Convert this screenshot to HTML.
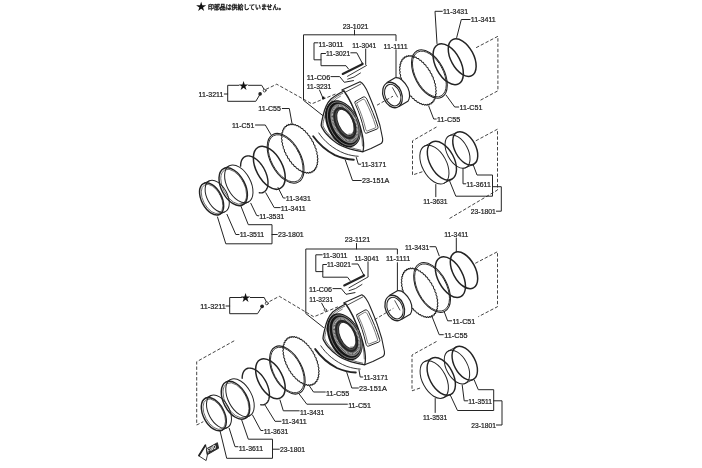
<!DOCTYPE html>
<html lang="ja"><head><meta charset="utf-8"><title>Rotor parts diagram</title>
<style>
html,body{margin:0;padding:0;background:#fff;}
body{width:702px;height:468px;overflow:hidden;}
svg{display:block;filter:blur(0.42px);}
svg text{font-family:"Liberation Sans","Noto Sans CJK JP",sans-serif;fill:#1c1c1c;stroke:#1c1c1c;stroke-width:0.22px;}
svg path,svg ellipse,svg circle{fill:none;stroke:#242424;stroke-linecap:round;stroke-linejoin:round;}
</style></head><body>
<svg width="702" height="468" viewBox="0 0 702 468">
<rect width="702" height="468" fill="#fff" stroke="none"/>
<text x="201.1" y="9.83" font-size="10.35" text-anchor="middle" style="stroke:none;fill:#111">★</text>
<text x="208" y="8.8" font-size="6" textLength="76.3" lengthAdjust="spacingAndGlyphs" style="stroke-width:0.38px;fill:#222;stroke:#222">印部品は供給していません。</text>
<text x="342.7" y="29.2" textLength="25.8" lengthAdjust="spacingAndGlyphs" font-size="7.4" >23-1021</text>
<path d="M354.5 30 L354.5 34.8" stroke-width="1.0" />
<path d="M396 77.3 L396 49.8" stroke-width="1.0" />
<path d="M396 40.7 L396 34.8 L303.5 34.8 L303.5 100.3 L322.7 115.5" stroke-width="1.0" />
<text x="383.5" y="48.8" textLength="24.2" lengthAdjust="spacingAndGlyphs" font-size="7.4" >11-1111</text>
<text x="318.5" y="46.6" textLength="25" lengthAdjust="spacingAndGlyphs" font-size="7.4" >11-3011</text>
<path d="M318 42.8 L314 42.8 L314 59.8 L321 59.8" stroke-width="1.0" />
<text x="352.3" y="48.3" textLength="24" lengthAdjust="spacingAndGlyphs" font-size="7.4" >11-3041</text>
<path d="M365.7 49 L365.7 64.5" stroke-width="1.0" />
<text x="326" y="56.1" textLength="24.2" lengthAdjust="spacingAndGlyphs" font-size="7.4" >11-3021</text>
<path d="M325.5 53.5 L321 53.5 L321 65.7 L346 65.7 L348.5 69" stroke-width="1.0" />
<path d="M350.8 52.8 L356.8 52.8 L362.3 63.2" stroke-width="1.0" />
<circle cx="362.4" cy="63.4" r="0.9" style="fill:#111;stroke:none"/>
<path d="M342.7 74 L362.7 64" stroke-width="2.0" />
<path d="M347.5 76.3 L366.5 65.5" stroke-width="0.9" />
<path d="M347.7 79.2 Q354 78 360.5 73" stroke-width="0.9"/>
<text x="306.8" y="79.9" textLength="23.4" lengthAdjust="spacingAndGlyphs" font-size="7.4" >11-C06</text>
<path d="M331 76.6 L339.7 76.6 L344.3 82.3 L353.5 80.6" stroke-width="1.0" />
<text x="306.8" y="89.4" textLength="24.5" lengthAdjust="spacingAndGlyphs" font-size="7.4" >11-3231</text>
<path d="M319.5 90 L322.5 97" stroke-width="1.0" />
<circle cx="323.3" cy="97.9" r="1.4" style="fill:#111;stroke:none"/>
<g transform="translate(0 0)">
<path d="M344 91 L341.8 90 L360.1 81.7 C364 83.5 366.5 89 368.5 94 C371 100 374 107 376 113 C379 121 381.5 131 382.6 138.5 C382.9 141.5 382.3 143 380.7 143.8 L371 148.5 L363.4 151.6" stroke-width="1.1" style="fill:#fff"/>
<path d="M344.6 92.6 L360.9 84" stroke-width="0.8"/>
<path d="M355.2 101.6 L363.2 97 C365 96.5 366 97.5 367 99.5 C371 108 375 117 377.8 126.3 C378.3 128 378 128.6 377 129 L366.5 133.2 C365.3 133.5 364.6 132.5 364 130 C362 121 359 112 355.5 104.5 C354.8 103 354.6 102 355.2 101.6Z" stroke-width="1"/>
<path d="M357 102.8 L362.8 99.3 C364 99 364.8 99.6 365.6 101.3 C369.5 109 373 117.5 375.6 126 C376 127.3 375.8 127.7 375 128 L367.3 131 C366.5 131.2 366 130.5 365.6 128.8 C363.6 120.5 361 112.5 357.4 105 C356.8 103.8 356.6 103.1 357 102.8Z" stroke-width="0.6"/>
<path d="M344 91 C340 92.5 334 96.7 331 99 C327 103 324.5 109 323 116 C322 120 321.2 123 321.2 125.5 C322 128.5 324 131 326.2 133.8 C329 137 332 140 336.2 142.7 C340 145.3 345 147.3 349.6 148.8 C354 150.2 358 151 362.9 151.8 C364.5 146 363.5 136 358.5 121.3 C355 111 350 99 344 91Z" stroke-width="1.3" style="fill:#fff"/>
<path d="M345.3 93.5 C350.5 101 354.8 111 357.6 120 C360.5 129 362.3 138 362.5 146" stroke-width="0.6"/>
<path d="M342.8 93.2 C339 94.8 335 97.5 332.3 100 C328.5 104 326 110 324.6 116.5 C323.6 120.5 322.9 123 322.9 125.3 C323.6 127.8 325.3 130.2 327.4 132.8 C330 136 333.5 139 337 141.3 C341 143.9 345.5 145.9 350 147.3 C354 148.6 357.5 149.5 361 150.2" stroke-width="0.7"/>
<path d="M340.5 96.2 C337 98 334.5 100 333 101.8 C329.8 105.5 327.5 111 326.2 117" stroke-width="0.6"/>
<ellipse cx="342.9" cy="123.75" rx="15.75" ry="25" transform="rotate(-26 342.9 123.75)" stroke-width="0" style="fill:#161616;stroke:none"/>
<ellipse cx="343.6" cy="123.65" rx="14.04" ry="23.2" transform="rotate(-26 343.6 123.65)" stroke-width="0.55" style="stroke:#b8b8b8"/>
<ellipse cx="344.6" cy="123.5" rx="12.08" ry="21.2" transform="rotate(-26 344.6 123.5)" stroke-width="0" style="fill:#505050;stroke:none"/>
<ellipse cx="344.6" cy="123.5" rx="11.57" ry="20.3" transform="rotate(-26 344.6 123.5)" stroke-width="0.45" style="stroke:#ccc"/>
<ellipse cx="344.7" cy="123.3" rx="10.36" ry="18.5" transform="rotate(-26 344.7 123.3)" stroke-width="1.9" stroke-dasharray="0.5 0.85" style="stroke-linecap:butt;stroke:#eee"/>
<ellipse cx="344.9" cy="123" rx="8.86" ry="16.1" transform="rotate(-26 344.9 123)" stroke-width="1.9" />
<ellipse cx="345.5" cy="122.3" rx="7.37" ry="13.9" transform="rotate(-24 345.5 122.3)" stroke-width="1.0" style="fill:#fff"/>
<path d="M343.18 110.03 L343.51 110.11 L343.83 110.21 L344.17 110.34 L344.5 110.48 L344.84 110.65 L345.18 110.84 L345.52 111.05 L345.87 111.29 L346.21 111.54 L346.56 111.81 L346.9 112.1 L347.24 112.42 L347.58 112.74 L347.92 113.09 L348.25 113.46 L348.58 113.84 L348.9 114.23 L349.22 114.64 L349.54 115.07 L349.84 115.5 L350.14 115.95 L350.43 116.42 L350.72 116.89 L350.99 117.37 L351.26 117.86 L351.51 118.36 L351.76 118.87 L351.99 119.38 L352.22 119.89 L352.43 120.41 L352.63 120.94 L352.81 121.46 L352.99 121.99 L353.15 122.52 L353.3 123.04 L353.43 123.57 L353.55 124.09 L353.66 124.6 L353.75 125.11 L353.83 125.62 L353.89 126.12 L353.94 126.61 L353.97 127.09 L353.99 127.57 L353.99 128.03 L353.98 128.48 L353.95 128.92 L353.91 129.34 L353.85 129.75 L353.78 130.15 L353.69 130.53 L353.59 130.89 L353.47 131.24 L353.35 131.57 L353.2 131.88 L353.05 132.18 L352.88 132.45 L352.69 132.7 L352.5 132.94 L352.29 133.15 L352.07 133.34 L351.84 133.51 L351.6 133.66 L351.35 133.78 L351.08 133.89 L350.81 133.97 L350.53 134.03 L350.24 134.06 L349.95 134.07 L349.64 134.06 L349.33 134.03 L349.02 133.97" stroke-width="0.6" />
</g>
<text x="198.6" y="97.1" textLength="24.8" lengthAdjust="spacingAndGlyphs" font-size="7.4" >11-3211</text>
<path d="M224.3 94 L227.7 94" stroke-width="1.0" />
<path d="M239 85.3 L227.7 85.3 L227.7 101.3 L255.8 101.3 L259.6 95" stroke-width="1.0" />
<path d="M248.5 85.3 L261.7 85.3 L264 89.2" stroke-width="1.0" />
<text x="243.6" y="89.04" font-size="10.12" text-anchor="middle" style="stroke:none;fill:#111">★</text>
<circle cx="260.1" cy="93.9" r="1.8" style="fill:#222;stroke:none"/>
<circle cx="264.6" cy="90.6" r="1.4" stroke-width="0.8"/>
<path d="M266 89.3 L276.7 84.2 L311.8 103.8 L336 93.8" stroke-width="0.85" stroke-dasharray="3.4 1.9" style="stroke-linecap:butt"/>
<path d="M312.73 141.67 L312.96 141.86 L313.17 142.07 L313.34 142.3 L313.45 142.56 L313.51 142.83 L313.54 143.12 L313.55 143.42 L313.56 143.7 L313.61 143.97 L313.71 144.22 L313.86 144.45 L314.06 144.68 L314.28 144.9 L314.51 145.12 L314.71 145.35 L314.86 145.6 L314.95 145.86 L314.99 146.13 L314.99 146.4 L314.96 146.67 L314.95 146.93 L314.97 147.19 L315.04 147.44 L315.17 147.69 L315.35 147.94 L315.56 148.18 L315.78 148.44 L315.97 148.69 L316.1 148.95 L316.18 149.21 L316.19 149.47 L316.15 149.71 L316.1 149.96 L316.05 150.2 L316.04 150.44 L316.08 150.69 L316.19 150.94 L316.36 151.21 L316.55 151.48 L316.75 151.76 L316.92 152.03 L317.04 152.3 L317.09 152.55 L317.08 152.79 L317.02 153.01 L316.93 153.23 L316.85 153.44 L316.81 153.66 L316.83 153.89 L316.91 154.15 L317.05 154.43 L317.23 154.72 L317.41 155.01 L317.56 155.3 L317.66 155.58 L317.69 155.82 L317.65 156.04 L317.56 156.23 L317.44 156.41 L317.33 156.59 L317.26 156.78 L317.25 157 L317.31 157.25 L317.43 157.54 L317.58 157.84 L317.74 158.15 L317.87 158.45 L317.94 158.72 L317.95 158.96 L317.89 159.15 L317.77 159.31 L317.63 159.45 L317.49 159.6 L317.39 159.76 L317.35 159.96 L317.38 160.2 L317.47 160.48 L317.6 160.79 L317.73 161.11 L317.84 161.41 L317.89 161.68 L317.87 161.9 L317.79 162.07 L317.65 162.2 L317.48 162.3 L317.32 162.4 L317.2 162.53 L317.13 162.7 L317.13 162.93 L317.19 163.2 L317.29 163.51 L317.39 163.84 L317.47 164.14 L317.5 164.4 L317.46 164.6 L317.35 164.74 L317.19 164.83 L317.01 164.89 L316.82 164.95 L316.67 165.04 L316.58 165.18 L316.55 165.39 L316.58 165.65 L316.65 165.96 L316.73 166.28 L316.78 166.57 L316.78 166.82 L316.72 167 L316.59 167.11 L316.42 167.16 L316.21 167.18 L316.01 167.2 L315.84 167.25 L315.72 167.36 L315.67 167.54 L315.67 167.79 L315.7 168.08 L315.75 168.39 L315.77 168.68 L315.75 168.91 L315.66 169.07 L315.52 169.14 L315.33 169.16 L315.11 169.13 L314.89 169.1 L314.7 169.11 L314.57 169.19 L314.48 169.34 L314.45 169.56 L314.46 169.84 L314.47 170.14 L314.46 170.41 L314.41 170.62 L314.31 170.75 L314.15 170.8 L313.95 170.77 L313.72 170.7 L313.49 170.63 L313.29 170.6 L313.13 170.64 L313.03 170.75 L312.97 170.95 L312.94 171.21 L312.92 171.48 L312.88 171.73 L312.81 171.92 L312.69 172.03 L312.52 172.04 L312.3 171.97 L312.07 171.87 L311.84 171.75 L311.63 171.68 L311.45 171.68 L311.33 171.76 L311.24 171.93 L311.18 172.15 L311.13 172.4 L311.06 172.63 L310.96 172.79 L310.83 172.87 L310.64 172.85 L310.43 172.75 L310.19 172.6 L309.96 172.45 L309.74 172.33 L309.56 172.29 L309.41 172.34 L309.3 172.47 L309.21 172.67 L309.12 172.88 L309.03 173.08 L308.91 173.21 L308.76 173.26 L308.57 173.21 L308.35 173.07 L308.12 172.89 L307.88 172.7 L307.67 172.55 L307.48 172.47 L307.31 172.48 L307.18 172.57 L307.06 172.73 L306.95 172.91 L306.83 173.08 L306.69 173.18 L306.52 173.19 L306.33 173.11 L306.11 172.94 L305.89 172.73 L305.66 172.51 L305.45 172.32 L305.25 172.2 L305.08 172.17 L304.92 172.23 L304.78 172.35 L304.64 172.5 L304.49 172.62 L304.33 172.69 L304.16 172.67 L303.96 172.56 L303.75 172.37 L303.54 172.12 L303.32 171.87 L303.12 171.65 L302.92 171.5 L302.74 171.43 L302.57 171.45 L302.41 171.53 L302.24 171.63 L302.07 171.72 L301.9 171.76 L301.71 171.71 L301.52 171.57 L301.32 171.35 L301.12 171.08 L300.92 170.8 L300.73 170.56 L300.54 170.37 L300.35 170.27 L300.17 170.25 L299.99 170.29 L299.8 170.35 L299.61 170.4 L299.42 170.39 L299.23 170.31 L299.04 170.15 L298.85 169.91 L298.67 169.62 L298.49 169.32 L298.31 169.05 L298.13 168.84 L297.95 168.71 L297.76 168.65 L297.56 168.64 L297.36 168.66 L297.15 168.67 L296.95 168.63 L296.75 168.52 L296.57 168.33 L296.4 168.07 L296.24 167.77 L296.08 167.46 L295.92 167.17 L295.76 166.94 L295.58 166.77 L295.39 166.68 L295.18 166.63 L294.96 166.6 L294.74 166.57 L294.53 166.49 L294.33 166.35 L294.16 166.14 L294.01 165.88 L293.87 165.57 L293.74 165.25 L293.61 164.95 L293.46 164.7 L293.29 164.5 L293.09 164.37 L292.88 164.28 L292.65 164.21 L292.42 164.14 L292.2 164.03 L292.01 163.86 L291.85 163.63 L291.72 163.36 L291.61 163.04 L291.5 162.72 L291.4 162.42 L291.27 162.16 L291.11 161.94 L290.92 161.78 L290.71 161.65 L290.47 161.54 L290.24 161.42 L290.02 161.28 L289.83 161.09 L289.69 160.85 L289.58 160.56 L289.49 160.25 L289.42 159.94 L289.34 159.63 L289.24 159.36 L289.1 159.13 L288.92 158.94 L288.7 158.77 L288.47 158.62 L288.23 158.47 L288.02 158.29 L287.84 158.08 L287.71 157.83 L287.62 157.55 L287.57 157.25 L287.53 156.94 L287.48 156.64 L287.4 156.37 L287.28 156.13 L287.11 155.91 L286.9 155.71 L286.67 155.53 L286.44 155.34 L286.23 155.13 L286.06 154.9 L285.95 154.64 L285.89 154.37 L285.86 154.08 L285.85 153.78 L285.84 153.5 L285.79 153.23 L285.69 152.98 L285.54 152.75 L285.34 152.52 L285.12 152.3 L284.89 152.08 L284.69 151.85 L284.54 151.6 L284.45 151.34 L284.41 151.07 L284.41 150.8 L284.44 150.53 L284.45 150.27 L284.43 150.01 L284.36 149.76 L284.23 149.51 L284.05 149.26 L283.84 149.02 L283.62 148.76 L283.43 148.51 L283.3 148.25 L283.22 147.99 L283.21 147.73 L283.25 147.49 L283.3 147.24 L283.35 147 L283.36 146.76 L283.32 146.51 L283.21 146.26 L283.04 145.99 L282.85 145.72 L282.65 145.44 L282.48 145.17 L282.36 144.9 L282.31 144.65 L282.32 144.41 L282.38 144.19 L282.47 143.97 L282.55 143.76 L282.59 143.54 L282.57 143.31 L282.49 143.05 L282.35 142.77 L282.17 142.48 L281.99 142.19 L281.84 141.9 L281.74 141.62 L281.71 141.38 L281.75 141.16 L281.84 140.97 L281.96 140.79 L282.07 140.61 L282.14 140.42 L282.15 140.2 L282.09 139.95 L281.97 139.66 L281.82 139.36 L281.66 139.05 L281.53 138.75 L281.46 138.48 L281.45 138.24 L281.51 138.05 L281.63 137.89 L281.77 137.75 L281.91 137.6 L282.01 137.44 L282.05 137.24 L282.02 137 L281.93 136.72 L281.8 136.41 L281.67 136.09 L281.56 135.79 L281.51 135.52 L281.53 135.3 L281.61 135.13 L281.75 135 L281.92 134.9 L282.08 134.8 L282.2 134.67 L282.27 134.5 L282.27 134.27 L282.21 134 L282.11 133.69 L282.01 133.36 L281.93 133.06 L281.9 132.8 L281.94 132.6 L282.05 132.46 L282.21 132.37 L282.39 132.31 L282.58 132.25 L282.73 132.16 L282.82 132.02 L282.85 131.81 L282.82 131.55 L282.75 131.24 L282.67 130.92 L282.62 130.63 L282.62 130.38 L282.68 130.2 L282.81 130.09 L282.98 130.04 L283.19 130.02 L283.39 130 L283.56 129.95 L283.68 129.84 L283.73 129.66 L283.73 129.41 L283.7 129.12 L283.65 128.81 L283.63 128.52 L283.65 128.29 L283.74 128.13 L283.88 128.06 L284.07 128.04 L284.29 128.07 L284.51 128.1 L284.7 128.09 L284.83 128.01 L284.92 127.86 L284.95 127.64 L284.94 127.36 L284.93 127.06 L284.94 126.79 L284.99 126.58 L285.09 126.45 L285.25 126.4 L285.45 126.43 L285.68 126.5 L285.91 126.57 L286.11 126.6 L286.27 126.56 L286.37 126.45 L286.43 126.25 L286.46 125.99 L286.48 125.72 L286.52 125.47 L286.59 125.28 L286.71 125.17 L286.88 125.16 L287.1 125.23 L287.33 125.33 L287.56 125.45 L287.77 125.52 L287.95 125.52 L288.07 125.44 L288.16 125.27 L288.22 125.05 L288.27 124.8 L288.34 124.57 L288.44 124.41 L288.57 124.33 L288.76 124.35 L288.97 124.45 L289.21 124.6 L289.44 124.75 L289.66 124.87 L289.84 124.91 L289.99 124.86 L290.1 124.73 L290.19 124.53 L290.28 124.32 L290.37 124.12 L290.49 123.99 L290.64 123.94 L290.83 123.99 L291.05 124.13 L291.28 124.31 L291.52 124.5 L291.73 124.65 L291.92 124.73 L292.09 124.72 L292.22 124.63 L292.34 124.47 L292.45 124.29 L292.57 124.12 L292.71 124.02 L292.88 124.01 L293.07 124.09 L293.29 124.26 L293.51 124.47 L293.74 124.69 L293.95 124.88 L294.15 125 L294.32 125.03 L294.48 124.97 L294.62 124.85 L294.76 124.7 L294.91 124.58 L295.07 124.51 L295.24 124.53 L295.44 124.64 L295.65 124.83 L295.86 125.08 L296.08 125.33 L296.28 125.55 L296.48 125.7 L296.66 125.77 L296.83 125.75 L296.99 125.67 L297.16 125.57 L297.33 125.48 L297.5 125.44 L297.69 125.49 L297.88 125.63 L298.08 125.85 L298.28 126.12 L298.48 126.4 L298.67 126.64 L298.86 126.83 L299.05 126.93 L299.23 126.95 L299.41 126.91 L299.6 126.85 L299.79 126.8 L299.98 126.81 L300.17 126.89 L300.36 127.05 L300.55 127.29 L300.73 127.58 L300.91 127.88 L301.09 128.15 L301.27 128.36 L301.45 128.49 L301.64 128.55 L301.84 128.56 L302.04 128.54 L302.25 128.53 L302.45 128.57 L302.65 128.68 L302.83 128.87 L303 129.13 L303.16 129.43 L303.32 129.74 L303.48 130.03 L303.64 130.26 L303.82 130.43 L304.01 130.52 L304.22 130.57 L304.44 130.6 L304.66 130.63 L304.87 130.71 L305.07 130.85 L305.24 131.06 L305.39 131.32 L305.53 131.63 L305.66 131.95 L305.79 132.25 L305.94 132.5 L306.11 132.7 L306.31 132.83 L306.52 132.92 L306.75 132.99 L306.98 133.06 L307.2 133.17 L307.39 133.34 L307.55 133.57 L307.68 133.84 L307.79 134.16 L307.9 134.48 L308 134.78 L308.13 135.04 L308.29 135.26 L308.48 135.42 L308.69 135.55 L308.93 135.66 L309.16 135.78 L309.38 135.92 L309.57 136.11 L309.71 136.35 L309.82 136.64 L309.91 136.95 L309.98 137.26 L310.06 137.57 L310.16 137.84 L310.3 138.07 L310.48 138.26 L310.7 138.43 L310.93 138.58 L311.17 138.73 L311.38 138.91 L311.56 139.12 L311.69 139.37 L311.78 139.65 L311.83 139.95 L311.87 140.26 L311.92 140.56 L312 140.83 L312.12 141.07 L312.29 141.29 L312.5 141.49 L312.73 141.67" stroke-width="1.05" />
<ellipse cx="285.6" cy="158.3" rx="15.12" ry="27" transform="rotate(-28 285.6 158.3)" stroke-width="1.05" />
<ellipse cx="285.6" cy="158.3" rx="14.33" ry="25.6" transform="rotate(-28 285.6 158.3)" stroke-width="0.8400000000000001" />
<ellipse cx="269.3" cy="167.8" rx="13.08" ry="23.36" transform="rotate(-28 269.3 167.8)" stroke-width="1.5" />
<path d="M240.61 166.17 L240.62 165.18 L240.69 164.23 L240.81 163.32 L240.97 162.44 L241.19 161.61 L241.45 160.83 L241.76 160.1 L242.11 159.41 L242.51 158.79 L242.96 158.22 L243.44 157.7 L243.96 157.25 L244.52 156.86 L245.12 156.54 L245.75 156.28 L246.41 156.09 L247.1 155.96 L247.81 155.9 L248.55 155.91 L249.31 155.98 L250.09 156.13 L250.89 156.33 L251.69 156.61 L252.51 156.95 L253.33 157.35 L254.16 157.82 L254.98 158.34 L255.81 158.93 L256.63 159.57 L257.44 160.26 L258.23 161.01 L259.02 161.8 L259.79 162.64 L260.53 163.52 L261.26 164.45 L261.96 165.41 L262.63 166.4 L263.27 167.42 L263.88 168.47 L264.45 169.53 L264.98 170.62 L265.48 171.72 L265.94 172.83 L266.35 173.94 L266.72 175.06 L267.05 176.17 L267.33 177.28 L267.56 178.38 L267.74 179.46 L267.88 180.53 L267.96 181.57 L267.99 182.59 L267.98 183.57 L267.91 184.52 L267.8 185.44 L267.64 186.32 L267.42 187.15 L267.16 187.93 L266.86 188.67 L266.5 189.36 L266.11 189.99 L265.67 190.56 L265.19 191.07 L264.66 191.53 L264.11 191.92 L263.51 192.25 L262.88 192.51 L262.22 192.71 L261.54 192.84 L260.82 192.9 L260.08 192.89 L259.32 192.82" stroke-width="1.4" />
<ellipse cx="238.8" cy="183.9" rx="11.86" ry="20.45" transform="rotate(-28 238.8 183.9)" stroke-width="1.0" />
<ellipse cx="233.2" cy="186.7" rx="11.86" ry="20.45" transform="rotate(-28 233.2 186.7)" stroke-width="1.45" />
<path d="M223.75 168.56 L229.35 165.76" stroke-width="0.9" />
<path d="M242.65 204.84 L248.25 202.04" stroke-width="0.9" />
<ellipse cx="233.7" cy="186.7" rx="10.66" ry="18.95" transform="rotate(-28 233.7 186.7)" stroke-width="0.6" />
<ellipse cx="217.2" cy="196.3" rx="10.09" ry="17.4" transform="rotate(-28 217.2 196.3)" stroke-width="1.0" />
<ellipse cx="211.6" cy="198.9" rx="10.09" ry="17.4" transform="rotate(-28 211.6 198.9)" stroke-width="1.45" />
<path d="M203.71 183.4 L209.31 180.8" stroke-width="0.9" />
<path d="M219.49 214.4 L225.09 211.8" stroke-width="0.9" />
<ellipse cx="212.1" cy="198.9" rx="8.95" ry="15.9" transform="rotate(-28 212.1 198.9)" stroke-width="0.6" />
<text x="258.3" y="111.4" textLength="22.7" lengthAdjust="spacingAndGlyphs" font-size="7.4" >11-C55</text>
<path d="M282.3 108.5 L289.3 108.5 L292 123.5" stroke-width="1.0" />
<text x="232" y="128.2" textLength="22.3" lengthAdjust="spacingAndGlyphs" font-size="7.4" >11-C51</text>
<path d="M255.5 125 L265.3 125 L271 134.7" stroke-width="1.0" />
<text x="285.8" y="201" textLength="25" lengthAdjust="spacingAndGlyphs" font-size="7.4" >11-3431</text>
<path d="M285.2 198 L283.3 198 L278 187.5" stroke-width="1.0" />
<text x="280.8" y="211" textLength="25" lengthAdjust="spacingAndGlyphs" font-size="7.4" >11-3411</text>
<path d="M280.2 207.6 L274.2 207.6 L265.8 192.8" stroke-width="1.0" />
<text x="259.2" y="219.4" textLength="25" lengthAdjust="spacingAndGlyphs" font-size="7.4" >11-3531</text>
<path d="M258.6 215.8 L256.7 215.5 L250.8 203.3" stroke-width="1.0" />
<text x="239.7" y="237.4" textLength="24.5" lengthAdjust="spacingAndGlyphs" font-size="7.4" >11-3511</text>
<path d="M239 234.5 L235.8 234.5 L227 214.4" stroke-width="1.0" />
<text x="278" y="237.4" textLength="25.7" lengthAdjust="spacingAndGlyphs" font-size="7.4" >23-1801</text>
<path d="M277.3 234.5 L272 234.5" stroke-width="1.0" />
<path d="M240.8 205.8 L248.3 224.7 L272 224.7 L272 243.8 L225.8 243.8 L217.5 217" stroke-width="1.0" />
<g transform="translate(0 0)">
<path d="M318.8 133 C324 141 333 149 344.9 153.6 C350 155.3 354 156 358.2 156.3" stroke-width="0.9"/>
<path d="M313.2 136.3 C318 143 327 151 334.9 155.2 C341 158 347 159.4 353.8 159.7" stroke-width="1.9"/>
</g>
<text x="361.3" y="167.2" textLength="25" lengthAdjust="spacingAndGlyphs" font-size="7.4" >11-3171</text>
<path d="M360.6 164.2 L358.3 164.2 L356.3 157.5" stroke-width="1.0" />
<text x="362" y="183.2" textLength="27.2" lengthAdjust="spacingAndGlyphs" font-size="7.4" >23-151A</text>
<path d="M361.3 180.5 L352.5 180.5 L345.3 160" stroke-width="1.0" />
<path d="M431.04 73.42 L431.27 73.61 L431.48 73.82 L431.65 74.05 L431.76 74.31 L431.83 74.59 L431.85 74.88 L431.86 75.17 L431.88 75.46 L431.93 75.73 L432.02 75.98 L432.18 76.22 L432.38 76.44 L432.6 76.67 L432.83 76.89 L433.03 77.13 L433.18 77.38 L433.28 77.64 L433.32 77.91 L433.31 78.18 L433.29 78.45 L433.27 78.72 L433.29 78.98 L433.36 79.23 L433.5 79.48 L433.68 79.73 L433.89 79.98 L434.11 80.24 L434.3 80.49 L434.44 80.76 L434.51 81.02 L434.52 81.27 L434.49 81.52 L434.43 81.77 L434.38 82.01 L434.37 82.26 L434.42 82.5 L434.53 82.76 L434.69 83.03 L434.89 83.3 L435.09 83.58 L435.26 83.86 L435.38 84.13 L435.44 84.38 L435.42 84.62 L435.36 84.85 L435.27 85.06 L435.19 85.28 L435.15 85.5 L435.17 85.74 L435.25 86 L435.39 86.27 L435.57 86.57 L435.75 86.87 L435.91 87.16 L436.01 87.43 L436.03 87.68 L436 87.9 L435.9 88.09 L435.79 88.28 L435.68 88.46 L435.61 88.65 L435.6 88.87 L435.65 89.13 L435.77 89.41 L435.92 89.72 L436.08 90.03 L436.22 90.33 L436.29 90.61 L436.3 90.84 L436.24 91.04 L436.12 91.2 L435.97 91.34 L435.84 91.49 L435.74 91.65 L435.7 91.85 L435.73 92.09 L435.82 92.38 L435.94 92.69 L436.08 93.01 L436.19 93.32 L436.24 93.59 L436.22 93.81 L436.14 93.98 L436 94.11 L435.83 94.21 L435.66 94.31 L435.54 94.44 L435.47 94.62 L435.47 94.84 L435.53 95.12 L435.63 95.44 L435.74 95.76 L435.82 96.07 L435.85 96.33 L435.81 96.53 L435.7 96.67 L435.54 96.76 L435.35 96.82 L435.16 96.88 L435.01 96.97 L434.92 97.12 L434.89 97.33 L434.92 97.59 L434.99 97.9 L435.07 98.22 L435.12 98.52 L435.12 98.77 L435.06 98.95 L434.93 99.07 L434.75 99.12 L434.55 99.13 L434.34 99.15 L434.17 99.2 L434.05 99.31 L434 99.49 L434 99.74 L434.03 100.04 L434.08 100.35 L434.1 100.64 L434.08 100.88 L433.99 101.03 L433.85 101.11 L433.65 101.13 L433.43 101.1 L433.22 101.07 L433.03 101.08 L432.89 101.16 L432.8 101.31 L432.77 101.54 L432.78 101.82 L432.79 102.11 L432.78 102.38 L432.74 102.6 L432.63 102.73 L432.47 102.78 L432.26 102.75 L432.03 102.68 L431.81 102.61 L431.6 102.58 L431.44 102.62 L431.34 102.74 L431.28 102.94 L431.25 103.19 L431.23 103.47 L431.19 103.72 L431.12 103.91 L431 104.02 L430.82 104.03 L430.61 103.97 L430.37 103.86 L430.14 103.74 L429.92 103.67 L429.75 103.66 L429.62 103.75 L429.53 103.92 L429.47 104.15 L429.42 104.4 L429.35 104.62 L429.26 104.79 L429.12 104.86 L428.93 104.84 L428.72 104.74 L428.48 104.6 L428.24 104.44 L428.02 104.33 L427.84 104.28 L427.69 104.33 L427.58 104.47 L427.49 104.66 L427.4 104.88 L427.31 105.08 L427.19 105.21 L427.03 105.26 L426.84 105.21 L426.62 105.07 L426.39 104.89 L426.15 104.7 L425.93 104.54 L425.74 104.46 L425.58 104.47 L425.44 104.57 L425.32 104.73 L425.21 104.91 L425.09 105.08 L424.94 105.18 L424.78 105.19 L424.58 105.11 L424.36 104.94 L424.14 104.73 L423.91 104.5 L423.69 104.31 L423.5 104.19 L423.32 104.16 L423.17 104.22 L423.02 104.34 L422.88 104.49 L422.73 104.62 L422.57 104.69 L422.39 104.67 L422.2 104.56 L421.99 104.36 L421.77 104.12 L421.55 103.86 L421.35 103.64 L421.15 103.49 L420.97 103.42 L420.8 103.44 L420.63 103.52 L420.46 103.62 L420.29 103.71 L420.11 103.75 L419.93 103.7 L419.73 103.55 L419.53 103.33 L419.33 103.06 L419.13 102.78 L418.93 102.54 L418.74 102.35 L418.56 102.25 L418.37 102.23 L418.19 102.26 L418 102.33 L417.81 102.38 L417.62 102.37 L417.42 102.29 L417.23 102.12 L417.04 101.88 L416.86 101.59 L416.68 101.29 L416.5 101.02 L416.32 100.81 L416.14 100.67 L415.94 100.61 L415.74 100.61 L415.54 100.63 L415.33 100.63 L415.12 100.59 L414.93 100.48 L414.74 100.29 L414.57 100.03 L414.41 99.73 L414.25 99.42 L414.09 99.13 L413.93 98.89 L413.75 98.72 L413.55 98.62 L413.34 98.58 L413.12 98.55 L412.9 98.52 L412.68 98.44 L412.49 98.3 L412.31 98.09 L412.16 97.82 L412.02 97.51 L411.89 97.18 L411.76 96.88 L411.61 96.63 L411.43 96.43 L411.24 96.3 L411.02 96.21 L410.79 96.14 L410.56 96.06 L410.34 95.95 L410.15 95.79 L409.99 95.56 L409.85 95.28 L409.74 94.96 L409.64 94.64 L409.53 94.33 L409.4 94.07 L409.24 93.85 L409.05 93.68 L408.83 93.56 L408.6 93.44 L408.36 93.33 L408.14 93.18 L407.95 92.99 L407.8 92.75 L407.69 92.46 L407.61 92.15 L407.54 91.83 L407.46 91.52 L407.35 91.25 L407.21 91.02 L407.03 90.82 L406.81 90.66 L406.57 90.51 L406.34 90.35 L406.12 90.17 L405.94 89.96 L405.81 89.71 L405.72 89.42 L405.67 89.12 L405.63 88.81 L405.58 88.51 L405.5 88.23 L405.38 87.99 L405.21 87.77 L405 87.57 L404.76 87.38 L404.53 87.19 L404.32 86.98 L404.15 86.75 L404.04 86.49 L403.97 86.21 L403.95 85.92 L403.94 85.63 L403.92 85.34 L403.87 85.07 L403.78 84.82 L403.62 84.58 L403.42 84.36 L403.2 84.13 L402.97 83.91 L402.77 83.67 L402.62 83.42 L402.52 83.16 L402.48 82.89 L402.49 82.62 L402.51 82.35 L402.53 82.08 L402.51 81.82 L402.44 81.57 L402.3 81.32 L402.12 81.07 L401.91 80.82 L401.69 80.56 L401.5 80.31 L401.36 80.04 L401.29 79.78 L401.28 79.53 L401.31 79.28 L401.37 79.03 L401.42 78.79 L401.43 78.54 L401.38 78.3 L401.27 78.04 L401.11 77.77 L400.91 77.5 L400.71 77.22 L400.54 76.94 L400.42 76.67 L400.36 76.42 L400.38 76.18 L400.44 75.95 L400.53 75.74 L400.61 75.52 L400.65 75.3 L400.63 75.06 L400.55 74.8 L400.41 74.53 L400.23 74.23 L400.05 73.93 L399.89 73.64 L399.79 73.37 L399.77 73.12 L399.8 72.9 L399.9 72.71 L400.01 72.52 L400.12 72.34 L400.19 72.15 L400.2 71.93 L400.15 71.67 L400.03 71.39 L399.88 71.08 L399.72 70.77 L399.58 70.47 L399.51 70.19 L399.5 69.96 L399.56 69.76 L399.68 69.6 L399.83 69.46 L399.96 69.31 L400.06 69.15 L400.1 68.95 L400.07 68.71 L399.98 68.42 L399.86 68.11 L399.72 67.79 L399.61 67.48 L399.56 67.21 L399.58 66.99 L399.66 66.82 L399.8 66.69 L399.97 66.59 L400.14 66.49 L400.26 66.36 L400.33 66.18 L400.33 65.96 L400.27 65.68 L400.17 65.36 L400.06 65.04 L399.98 64.73 L399.95 64.47 L399.99 64.27 L400.1 64.13 L400.26 64.04 L400.45 63.98 L400.64 63.92 L400.79 63.83 L400.88 63.68 L400.91 63.47 L400.88 63.21 L400.81 62.9 L400.73 62.58 L400.68 62.28 L400.68 62.03 L400.74 61.85 L400.87 61.73 L401.05 61.68 L401.25 61.67 L401.46 61.65 L401.63 61.6 L401.75 61.49 L401.8 61.31 L401.8 61.06 L401.77 60.76 L401.72 60.45 L401.7 60.16 L401.72 59.92 L401.81 59.77 L401.95 59.69 L402.15 59.67 L402.37 59.7 L402.58 59.73 L402.77 59.72 L402.91 59.64 L403 59.49 L403.03 59.26 L403.02 58.98 L403.01 58.69 L403.02 58.42 L403.06 58.2 L403.17 58.07 L403.33 58.02 L403.54 58.05 L403.77 58.12 L403.99 58.19 L404.2 58.22 L404.36 58.18 L404.46 58.06 L404.52 57.86 L404.55 57.61 L404.57 57.33 L404.61 57.08 L404.68 56.89 L404.8 56.78 L404.98 56.77 L405.19 56.83 L405.43 56.94 L405.66 57.06 L405.88 57.13 L406.05 57.14 L406.18 57.05 L406.27 56.88 L406.33 56.65 L406.38 56.4 L406.45 56.18 L406.54 56.01 L406.68 55.94 L406.87 55.96 L407.08 56.06 L407.32 56.2 L407.56 56.36 L407.78 56.47 L407.96 56.52 L408.11 56.47 L408.22 56.33 L408.31 56.14 L408.4 55.92 L408.49 55.72 L408.61 55.59 L408.77 55.54 L408.96 55.59 L409.18 55.73 L409.41 55.91 L409.65 56.1 L409.87 56.26 L410.06 56.34 L410.22 56.33 L410.36 56.23 L410.48 56.07 L410.59 55.89 L410.71 55.72 L410.86 55.62 L411.02 55.61 L411.22 55.69 L411.44 55.86 L411.66 56.07 L411.89 56.3 L412.11 56.49 L412.3 56.61 L412.48 56.64 L412.63 56.58 L412.78 56.46 L412.92 56.31 L413.07 56.18 L413.23 56.11 L413.41 56.13 L413.6 56.24 L413.81 56.44 L414.03 56.68 L414.25 56.94 L414.45 57.16 L414.65 57.31 L414.83 57.38 L415 57.36 L415.17 57.28 L415.34 57.18 L415.51 57.09 L415.69 57.05 L415.87 57.1 L416.07 57.25 L416.27 57.47 L416.47 57.74 L416.67 58.02 L416.87 58.26 L417.06 58.45 L417.24 58.55 L417.43 58.57 L417.61 58.54 L417.8 58.47 L417.99 58.42 L418.18 58.43 L418.38 58.51 L418.57 58.68 L418.76 58.92 L418.94 59.21 L419.12 59.51 L419.3 59.78 L419.48 59.99 L419.66 60.13 L419.86 60.19 L420.06 60.19 L420.26 60.17 L420.47 60.17 L420.68 60.21 L420.87 60.32 L421.06 60.51 L421.23 60.77 L421.39 61.07 L421.55 61.38 L421.71 61.67 L421.87 61.91 L422.05 62.08 L422.25 62.18 L422.46 62.22 L422.68 62.25 L422.9 62.28 L423.12 62.36 L423.31 62.5 L423.49 62.71 L423.64 62.98 L423.78 63.29 L423.91 63.62 L424.04 63.92 L424.19 64.17 L424.37 64.37 L424.56 64.5 L424.78 64.59 L425.01 64.66 L425.24 64.74 L425.46 64.85 L425.65 65.01 L425.81 65.24 L425.95 65.52 L426.06 65.84 L426.16 66.16 L426.27 66.47 L426.4 66.73 L426.56 66.95 L426.75 67.12 L426.97 67.24 L427.2 67.36 L427.44 67.47 L427.66 67.62 L427.85 67.81 L428 68.05 L428.11 68.34 L428.19 68.65 L428.26 68.97 L428.34 69.28 L428.45 69.55 L428.59 69.78 L428.77 69.98 L428.99 70.14 L429.23 70.29 L429.46 70.45 L429.68 70.63 L429.86 70.84 L429.99 71.09 L430.08 71.38 L430.13 71.68 L430.17 71.99 L430.22 72.29 L430.3 72.57 L430.42 72.81 L430.59 73.03 L430.8 73.23 L431.04 73.42" stroke-width="1.05" />
<ellipse cx="429.4" cy="74" rx="14.7" ry="26.24" transform="rotate(-28 429.4 74)" stroke-width="1.05" />
<ellipse cx="429.4" cy="74" rx="13.91" ry="24.84" transform="rotate(-28 429.4 74)" stroke-width="0.8400000000000001" />
<ellipse cx="448.2" cy="64.2" rx="12.45" ry="22.23" transform="rotate(-28 448.2 64.2)" stroke-width="1.5" />
<ellipse cx="462.2" cy="57.6" rx="11.45" ry="20.45" transform="rotate(-28 462.2 57.6)" stroke-width="1.5" />
<text x="443" y="14.3" textLength="25" lengthAdjust="spacingAndGlyphs" font-size="7.4" >11-3431</text>
<path d="M442.3 11.3 L435 11.3 L437 43.5" stroke-width="1.0" />
<text x="470.8" y="22.3" textLength="25" lengthAdjust="spacingAndGlyphs" font-size="7.4" >11-3411</text>
<path d="M470 19.5 L461.3 19.5 L456.7 37.5" stroke-width="1.0" />
<text x="459.5" y="110.1" textLength="23" lengthAdjust="spacingAndGlyphs" font-size="7.4" >11-C51</text>
<path d="M458.7 107 L454.7 107 L446 95" stroke-width="1.0" />
<text x="437" y="122" textLength="23.2" lengthAdjust="spacingAndGlyphs" font-size="7.4" >11-C55</text>
<path d="M436.2 119 L433.7 119 L428.7 106" stroke-width="1.0" />
<path d="M476.1 47.7 L497.9 36.3 L497.9 90.8 L479 101" stroke-width="0.85" stroke-dasharray="3.4 1.9" style="stroke-linecap:butt"/>
<g transform="translate(0 0)">
<path d="M387 82.6 L395.1 77.8 C398 77.3 400 78.3 401.9 80 C404.5 82.3 406.5 85 407.9 87.7 C409.2 90.5 409.8 93.5 409.6 96.2 C409.4 98.5 408.8 100.2 407.9 101.3 L399.4 106.2" stroke-width="1.15" style="fill:#fff"/>
<ellipse cx="392.5" cy="95" rx="9.24" ry="13.2" transform="rotate(-22 392.5 95)" stroke-width="1.3" style="fill:#fff"/>
<ellipse cx="392.7" cy="95.1" rx="7.62" ry="11.2" transform="rotate(-22 392.7 95.1)" stroke-width="1.0" />
<path d="M392.5 87.7 L397.6 97" stroke-width="0.8"/>
</g>
<path d="M377 105.2 L393 96.2" stroke-width="0.85" stroke-dasharray="3.4 1.9" style="stroke-linecap:butt"/>
<ellipse cx="434.4" cy="164.6" rx="12.18" ry="21" transform="rotate(-28 434.4 164.6)" stroke-width="1.0" />
<ellipse cx="441.9" cy="160.7" rx="12.18" ry="21" transform="rotate(-28 441.9 160.7)" stroke-width="1.45" />
<path d="M451.7 179.27 L444.2 183.17" stroke-width="0.9" />
<path d="M432.1 142.13 L424.6 146.03" stroke-width="0.9" />
<ellipse cx="457.55" cy="151.65" rx="10.44" ry="18" transform="rotate(-28 457.55 151.65)" stroke-width="1.0" />
<ellipse cx="465.25" cy="148.35" rx="10.44" ry="18" transform="rotate(-28 465.25 148.35)" stroke-width="1.45" />
<path d="M473.24 164.46 L465.54 167.76" stroke-width="0.9" />
<path d="M457.26 132.24 L449.56 135.54" stroke-width="0.9" />
<text x="466.3" y="186.9" textLength="24.5" lengthAdjust="spacingAndGlyphs" font-size="7.4" >11-3611</text>
<path d="M465.6 183.8 L463 183.8 L463 168.3" stroke-width="1.0" />
<text x="423.3" y="204" textLength="24.3" lengthAdjust="spacingAndGlyphs" font-size="7.4" >11-3631</text>
<path d="M435.8 184.5 L435.8 196.7" stroke-width="1.0" />
<text x="470.8" y="214" textLength="25" lengthAdjust="spacingAndGlyphs" font-size="7.4" >23-1801</text>
<path d="M496.4 211.2 L501.3 211.2 L501.3 186.7 L492.5 186.7" stroke-width="1.0" />
<path d="M473.3 165 L477 175 L492.5 175 L492.5 196.2 L455.8 196.2 L449.2 180" stroke-width="1.0" />
<path d="M436.5 127 L412.5 140.8 L412.5 175 L422.5 171.7" stroke-width="0.85" stroke-dasharray="3.4 1.9" style="stroke-linecap:butt"/>
<path d="M475.8 140.8 L497.5 129.2 L497.5 190 L448.3 219.2" stroke-width="0.85" stroke-dasharray="3.4 1.9" style="stroke-linecap:butt"/>
<text x="344.8" y="242.2" textLength="25.4" lengthAdjust="spacingAndGlyphs" font-size="7.4" >23-1121</text>
<path d="M356.5 243.5 L356.5 249" stroke-width="1.0" />
<path d="M397.4 291 L397.4 262.7" stroke-width="1.0" />
<path d="M397.4 254 L397.4 249 L305.8 249 L305.8 313.5 L323.5 327.5" stroke-width="1.0" />
<text x="386" y="261.2" textLength="24.2" lengthAdjust="spacingAndGlyphs" font-size="7.4" >11-1111</text>
<text x="322.7" y="257.7" textLength="24.8" lengthAdjust="spacingAndGlyphs" font-size="7.4" >11-3011</text>
<path d="M322.2 254.8 L315.8 254.8 L315.8 271.6 L322.8 271.6" stroke-width="1.0" />
<text x="354.4" y="260.5" textLength="24.6" lengthAdjust="spacingAndGlyphs" font-size="7.4" >11-3041</text>
<path d="M368 261.8 L368 276.5" stroke-width="1.0" />
<text x="326.9" y="266.6" textLength="24.2" lengthAdjust="spacingAndGlyphs" font-size="7.4" >11-3021</text>
<path d="M326.5 264.5 L322.8 264.5 L322.8 277.2 L347.5 277.2 L350 280.5" stroke-width="1.0" />
<path d="M352 264 L358 264 L363.5 274.5" stroke-width="1.0" />
<circle cx="363.6" cy="274.8" r="0.9" style="fill:#111;stroke:none"/>
<path d="M344.2 285.5 L364.2 275.5" stroke-width="2.0" />
<path d="M349 287.8 L368 277" stroke-width="0.9" />
<path d="M349.2 290.7 Q355.5 289.5 362 284.5" stroke-width="0.9"/>
<text x="309" y="292" textLength="23" lengthAdjust="spacingAndGlyphs" font-size="7.4" >11-C06</text>
<path d="M333 288.6 L341.3 288.6 L346 294.3 L355 292.6" stroke-width="1.0" />
<text x="309.3" y="302.1" textLength="23.8" lengthAdjust="spacingAndGlyphs" font-size="7.4" >11-3231</text>
<path d="M321.7 303.2 L324.5 308.5" stroke-width="1.0" />
<circle cx="325.3" cy="310" r="1.2" stroke-width="0.7"/>
<g transform="translate(1.8 213)">
<path d="M344 91 L341.8 90 L360.1 81.7 C364 83.5 366.5 89 368.5 94 C371 100 374 107 376 113 C379 121 381.5 131 382.6 138.5 C382.9 141.5 382.3 143 380.7 143.8 L371 148.5 L363.4 151.6" stroke-width="1.1" style="fill:#fff"/>
<path d="M344.6 92.6 L360.9 84" stroke-width="0.8"/>
<path d="M355.2 101.6 L363.2 97 C365 96.5 366 97.5 367 99.5 C371 108 375 117 377.8 126.3 C378.3 128 378 128.6 377 129 L366.5 133.2 C365.3 133.5 364.6 132.5 364 130 C362 121 359 112 355.5 104.5 C354.8 103 354.6 102 355.2 101.6Z" stroke-width="1"/>
<path d="M357 102.8 L362.8 99.3 C364 99 364.8 99.6 365.6 101.3 C369.5 109 373 117.5 375.6 126 C376 127.3 375.8 127.7 375 128 L367.3 131 C366.5 131.2 366 130.5 365.6 128.8 C363.6 120.5 361 112.5 357.4 105 C356.8 103.8 356.6 103.1 357 102.8Z" stroke-width="0.6"/>
<path d="M344 91 C340 92.5 334 96.7 331 99 C327 103 324.5 109 323 116 C322 120 321.2 123 321.2 125.5 C322 128.5 324 131 326.2 133.8 C329 137 332 140 336.2 142.7 C340 145.3 345 147.3 349.6 148.8 C354 150.2 358 151 362.9 151.8 C364.5 146 363.5 136 358.5 121.3 C355 111 350 99 344 91Z" stroke-width="1.3" style="fill:#fff"/>
<path d="M345.3 93.5 C350.5 101 354.8 111 357.6 120 C360.5 129 362.3 138 362.5 146" stroke-width="0.6"/>
<path d="M342.8 93.2 C339 94.8 335 97.5 332.3 100 C328.5 104 326 110 324.6 116.5 C323.6 120.5 322.9 123 322.9 125.3 C323.6 127.8 325.3 130.2 327.4 132.8 C330 136 333.5 139 337 141.3 C341 143.9 345.5 145.9 350 147.3 C354 148.6 357.5 149.5 361 150.2" stroke-width="0.7"/>
<path d="M340.5 96.2 C337 98 334.5 100 333 101.8 C329.8 105.5 327.5 111 326.2 117" stroke-width="0.6"/>
<ellipse cx="342.9" cy="123.75" rx="15.75" ry="25" transform="rotate(-26 342.9 123.75)" stroke-width="0" style="fill:#161616;stroke:none"/>
<ellipse cx="343.6" cy="123.65" rx="14.04" ry="23.2" transform="rotate(-26 343.6 123.65)" stroke-width="0.55" style="stroke:#b8b8b8"/>
<ellipse cx="344.6" cy="123.5" rx="12.08" ry="21.2" transform="rotate(-26 344.6 123.5)" stroke-width="0" style="fill:#505050;stroke:none"/>
<ellipse cx="344.6" cy="123.5" rx="11.57" ry="20.3" transform="rotate(-26 344.6 123.5)" stroke-width="0.45" style="stroke:#ccc"/>
<ellipse cx="344.7" cy="123.3" rx="10.36" ry="18.5" transform="rotate(-26 344.7 123.3)" stroke-width="1.9" stroke-dasharray="0.5 0.85" style="stroke-linecap:butt;stroke:#eee"/>
<ellipse cx="344.9" cy="123" rx="8.86" ry="16.1" transform="rotate(-26 344.9 123)" stroke-width="1.9" />
<ellipse cx="345.5" cy="122.3" rx="7.37" ry="13.9" transform="rotate(-24 345.5 122.3)" stroke-width="1.0" style="fill:#fff"/>
<path d="M343.18 110.03 L343.51 110.11 L343.83 110.21 L344.17 110.34 L344.5 110.48 L344.84 110.65 L345.18 110.84 L345.52 111.05 L345.87 111.29 L346.21 111.54 L346.56 111.81 L346.9 112.1 L347.24 112.42 L347.58 112.74 L347.92 113.09 L348.25 113.46 L348.58 113.84 L348.9 114.23 L349.22 114.64 L349.54 115.07 L349.84 115.5 L350.14 115.95 L350.43 116.42 L350.72 116.89 L350.99 117.37 L351.26 117.86 L351.51 118.36 L351.76 118.87 L351.99 119.38 L352.22 119.89 L352.43 120.41 L352.63 120.94 L352.81 121.46 L352.99 121.99 L353.15 122.52 L353.3 123.04 L353.43 123.57 L353.55 124.09 L353.66 124.6 L353.75 125.11 L353.83 125.62 L353.89 126.12 L353.94 126.61 L353.97 127.09 L353.99 127.57 L353.99 128.03 L353.98 128.48 L353.95 128.92 L353.91 129.34 L353.85 129.75 L353.78 130.15 L353.69 130.53 L353.59 130.89 L353.47 131.24 L353.35 131.57 L353.2 131.88 L353.05 132.18 L352.88 132.45 L352.69 132.7 L352.5 132.94 L352.29 133.15 L352.07 133.34 L351.84 133.51 L351.6 133.66 L351.35 133.78 L351.08 133.89 L350.81 133.97 L350.53 134.03 L350.24 134.06 L349.95 134.07 L349.64 134.06 L349.33 134.03 L349.02 133.97" stroke-width="0.6" />
</g>
<text x="200.3" y="309.2" textLength="25.4" lengthAdjust="spacingAndGlyphs" font-size="7.4" >11-3211</text>
<path d="M226 306 L229.7 306" stroke-width="1.0" />
<path d="M241.5 297.5 L229.7 297.5 L229.7 313.7 L257.5 313.7 L261.5 307.5" stroke-width="1.0" />
<path d="M250.3 297.5 L264.2 297.5 L266.3 301.8" stroke-width="1.0" />
<text x="245.6" y="300.94" font-size="10.12" text-anchor="middle" style="stroke:none;fill:#111">★</text>
<circle cx="262.1" cy="306.3" r="1.9" style="fill:#222;stroke:none"/>
<circle cx="266.8" cy="303.3" r="1.5" stroke-width="0.8"/>
<path d="M269.5 301.5 L279.3 296.3 L313.8 316.8 L338 306.8" stroke-width="0.85" stroke-dasharray="3.4 1.9" style="stroke-linecap:butt"/>
<path d="M313.98 354.1 L314.21 354.29 L314.42 354.5 L314.58 354.73 L314.69 354.98 L314.76 355.26 L314.78 355.55 L314.79 355.84 L314.81 356.12 L314.85 356.39 L314.95 356.64 L315.1 356.87 L315.3 357.09 L315.52 357.31 L315.75 357.53 L315.95 357.77 L316.1 358.01 L316.19 358.27 L316.23 358.54 L316.22 358.81 L316.2 359.08 L316.18 359.34 L316.2 359.6 L316.28 359.85 L316.41 360.09 L316.59 360.34 L316.8 360.59 L317.01 360.84 L317.2 361.09 L317.34 361.35 L317.41 361.61 L317.42 361.86 L317.39 362.11 L317.33 362.35 L317.28 362.59 L317.27 362.83 L317.32 363.08 L317.43 363.33 L317.59 363.6 L317.78 363.87 L317.98 364.14 L318.15 364.42 L318.27 364.68 L318.32 364.94 L318.31 365.17 L318.24 365.39 L318.16 365.61 L318.08 365.82 L318.04 366.04 L318.06 366.27 L318.14 366.53 L318.28 366.8 L318.46 367.09 L318.64 367.39 L318.79 367.68 L318.88 367.95 L318.91 368.19 L318.88 368.41 L318.78 368.6 L318.67 368.78 L318.56 368.96 L318.49 369.15 L318.48 369.37 L318.54 369.62 L318.65 369.9 L318.81 370.2 L318.96 370.51 L319.09 370.81 L319.17 371.08 L319.17 371.31 L319.11 371.51 L319 371.67 L318.85 371.81 L318.72 371.95 L318.62 372.11 L318.58 372.31 L318.61 372.55 L318.7 372.83 L318.82 373.14 L318.96 373.46 L319.06 373.76 L319.12 374.03 L319.1 374.25 L319.01 374.41 L318.87 374.54 L318.71 374.64 L318.55 374.74 L318.42 374.87 L318.36 375.04 L318.36 375.27 L318.42 375.54 L318.51 375.85 L318.62 376.17 L318.7 376.48 L318.73 376.73 L318.69 376.94 L318.58 377.07 L318.42 377.16 L318.23 377.22 L318.05 377.28 L317.9 377.37 L317.81 377.51 L317.78 377.72 L317.81 377.98 L317.88 378.29 L317.96 378.6 L318.01 378.9 L318.01 379.15 L317.95 379.33 L317.82 379.44 L317.65 379.49 L317.44 379.5 L317.24 379.52 L317.07 379.57 L316.96 379.68 L316.9 379.86 L316.9 380.11 L316.94 380.4 L316.98 380.71 L317 380.99 L316.98 381.23 L316.9 381.38 L316.75 381.46 L316.56 381.47 L316.34 381.45 L316.13 381.42 L315.94 381.43 L315.8 381.5 L315.72 381.65 L315.69 381.88 L315.7 382.15 L315.71 382.45 L315.7 382.72 L315.65 382.93 L315.55 383.06 L315.39 383.11 L315.19 383.08 L314.96 383.01 L314.74 382.94 L314.54 382.91 L314.38 382.94 L314.27 383.06 L314.21 383.26 L314.19 383.51 L314.17 383.79 L314.13 384.04 L314.06 384.23 L313.94 384.33 L313.76 384.34 L313.55 384.28 L313.32 384.17 L313.09 384.06 L312.88 383.98 L312.71 383.98 L312.58 384.07 L312.49 384.23 L312.43 384.46 L312.38 384.7 L312.32 384.93 L312.22 385.09 L312.08 385.17 L311.9 385.15 L311.68 385.05 L311.45 384.9 L311.21 384.75 L311 384.63 L310.82 384.59 L310.67 384.64 L310.56 384.77 L310.47 384.97 L310.39 385.18 L310.29 385.38 L310.17 385.51 L310.02 385.56 L309.83 385.5 L309.61 385.37 L309.38 385.19 L309.15 385 L308.93 384.85 L308.74 384.77 L308.58 384.78 L308.45 384.87 L308.33 385.03 L308.22 385.21 L308.1 385.38 L307.96 385.48 L307.79 385.49 L307.6 385.41 L307.38 385.24 L307.16 385.03 L306.94 384.81 L306.72 384.62 L306.53 384.5 L306.36 384.47 L306.2 384.53 L306.06 384.65 L305.92 384.8 L305.77 384.92 L305.61 384.99 L305.44 384.97 L305.24 384.86 L305.04 384.67 L304.82 384.43 L304.61 384.17 L304.4 383.96 L304.21 383.8 L304.03 383.74 L303.86 383.76 L303.7 383.84 L303.53 383.94 L303.36 384.03 L303.19 384.06 L303 384.01 L302.81 383.87 L302.61 383.65 L302.41 383.39 L302.21 383.11 L302.02 382.87 L301.83 382.68 L301.65 382.58 L301.47 382.56 L301.28 382.6 L301.1 382.66 L300.91 382.71 L300.72 382.7 L300.53 382.62 L300.34 382.46 L300.15 382.22 L299.97 381.93 L299.8 381.64 L299.62 381.37 L299.44 381.16 L299.26 381.03 L299.07 380.96 L298.87 380.96 L298.67 380.98 L298.46 380.99 L298.26 380.95 L298.06 380.84 L297.88 380.65 L297.71 380.39 L297.55 380.09 L297.4 379.78 L297.24 379.5 L297.08 379.26 L296.9 379.1 L296.7 379 L296.49 378.95 L296.28 378.93 L296.06 378.89 L295.85 378.82 L295.65 378.68 L295.48 378.47 L295.33 378.2 L295.19 377.9 L295.06 377.58 L294.93 377.28 L294.78 377.03 L294.61 376.84 L294.42 376.71 L294.2 376.62 L293.98 376.55 L293.75 376.47 L293.53 376.36 L293.34 376.2 L293.18 375.97 L293.05 375.7 L292.94 375.39 L292.84 375.07 L292.73 374.76 L292.6 374.5 L292.45 374.29 L292.26 374.12 L292.04 373.99 L291.81 373.89 L291.58 373.77 L291.36 373.62 L291.17 373.43 L291.03 373.2 L290.92 372.92 L290.83 372.61 L290.76 372.29 L290.68 371.99 L290.58 371.72 L290.44 371.49 L290.26 371.3 L290.05 371.13 L289.81 370.98 L289.58 370.83 L289.36 370.65 L289.19 370.44 L289.06 370.19 L288.97 369.91 L288.92 369.61 L288.88 369.31 L288.83 369.01 L288.75 368.74 L288.63 368.49 L288.46 368.28 L288.26 368.09 L288.02 367.9 L287.79 367.71 L287.58 367.5 L287.42 367.27 L287.31 367.02 L287.24 366.74 L287.22 366.45 L287.21 366.16 L287.19 365.88 L287.15 365.61 L287.05 365.36 L286.9 365.13 L286.7 364.91 L286.48 364.69 L286.25 364.47 L286.05 364.23 L285.9 363.99 L285.81 363.73 L285.77 363.46 L285.78 363.19 L285.8 362.92 L285.82 362.66 L285.8 362.4 L285.72 362.15 L285.59 361.91 L285.41 361.66 L285.2 361.41 L284.99 361.16 L284.8 360.91 L284.66 360.65 L284.59 360.39 L284.58 360.14 L284.61 359.89 L284.67 359.65 L284.72 359.41 L284.73 359.17 L284.68 358.92 L284.57 358.67 L284.41 358.4 L284.22 358.13 L284.02 357.86 L283.85 357.58 L283.73 357.32 L283.68 357.06 L283.69 356.83 L283.76 356.61 L283.84 356.39 L283.92 356.18 L283.96 355.96 L283.94 355.73 L283.86 355.47 L283.72 355.2 L283.54 354.91 L283.36 354.61 L283.21 354.32 L283.12 354.05 L283.09 353.81 L283.12 353.59 L283.22 353.4 L283.33 353.22 L283.44 353.04 L283.51 352.85 L283.52 352.63 L283.46 352.38 L283.35 352.1 L283.19 351.8 L283.04 351.49 L282.91 351.19 L282.83 350.92 L282.83 350.69 L282.89 350.49 L283 350.33 L283.15 350.19 L283.28 350.05 L283.38 349.89 L283.42 349.69 L283.39 349.45 L283.3 349.17 L283.18 348.86 L283.04 348.54 L282.94 348.24 L282.88 347.97 L282.9 347.75 L282.99 347.59 L283.13 347.46 L283.29 347.36 L283.45 347.26 L283.58 347.13 L283.64 346.96 L283.64 346.73 L283.58 346.46 L283.49 346.15 L283.38 345.83 L283.3 345.52 L283.27 345.27 L283.31 345.06 L283.42 344.93 L283.58 344.84 L283.77 344.78 L283.95 344.72 L284.1 344.63 L284.19 344.49 L284.22 344.28 L284.19 344.02 L284.12 343.71 L284.04 343.4 L283.99 343.1 L283.99 342.85 L284.05 342.67 L284.18 342.56 L284.35 342.51 L284.56 342.5 L284.76 342.48 L284.93 342.43 L285.04 342.32 L285.1 342.14 L285.1 341.89 L285.06 341.6 L285.02 341.29 L285 341.01 L285.02 340.77 L285.1 340.62 L285.25 340.54 L285.44 340.53 L285.66 340.55 L285.87 340.58 L286.06 340.57 L286.2 340.5 L286.28 340.35 L286.31 340.12 L286.3 339.85 L286.29 339.55 L286.3 339.28 L286.35 339.07 L286.45 338.94 L286.61 338.89 L286.81 338.92 L287.04 338.99 L287.26 339.06 L287.46 339.09 L287.62 339.06 L287.73 338.94 L287.79 338.74 L287.81 338.49 L287.83 338.21 L287.87 337.96 L287.94 337.77 L288.06 337.67 L288.24 337.66 L288.45 337.72 L288.68 337.83 L288.91 337.94 L289.12 338.02 L289.29 338.02 L289.42 337.93 L289.51 337.77 L289.57 337.54 L289.62 337.3 L289.68 337.07 L289.78 336.91 L289.92 336.83 L290.1 336.85 L290.32 336.95 L290.55 337.1 L290.79 337.25 L291 337.37 L291.18 337.41 L291.33 337.36 L291.44 337.23 L291.53 337.03 L291.61 336.82 L291.71 336.62 L291.83 336.49 L291.98 336.44 L292.17 336.5 L292.39 336.63 L292.62 336.81 L292.85 337 L293.07 337.15 L293.26 337.23 L293.42 337.22 L293.55 337.13 L293.67 336.97 L293.78 336.79 L293.9 336.62 L294.04 336.52 L294.21 336.51 L294.4 336.59 L294.62 336.76 L294.84 336.97 L295.06 337.19 L295.28 337.38 L295.47 337.5 L295.64 337.53 L295.8 337.47 L295.94 337.35 L296.08 337.2 L296.23 337.08 L296.39 337.01 L296.56 337.03 L296.76 337.14 L296.96 337.33 L297.18 337.57 L297.39 337.83 L297.6 338.04 L297.79 338.2 L297.97 338.26 L298.14 338.24 L298.3 338.16 L298.47 338.06 L298.64 337.97 L298.81 337.94 L299 337.99 L299.19 338.13 L299.39 338.35 L299.59 338.61 L299.79 338.89 L299.98 339.13 L300.17 339.32 L300.35 339.42 L300.53 339.44 L300.72 339.4 L300.9 339.34 L301.09 339.29 L301.28 339.3 L301.47 339.38 L301.66 339.54 L301.85 339.78 L302.03 340.07 L302.2 340.36 L302.38 340.63 L302.56 340.84 L302.74 340.97 L302.93 341.04 L303.13 341.04 L303.33 341.02 L303.54 341.01 L303.74 341.05 L303.94 341.16 L304.12 341.35 L304.29 341.61 L304.45 341.91 L304.6 342.22 L304.76 342.5 L304.92 342.74 L305.1 342.9 L305.3 343 L305.51 343.05 L305.72 343.07 L305.94 343.11 L306.15 343.18 L306.35 343.32 L306.52 343.53 L306.67 343.8 L306.81 344.1 L306.94 344.42 L307.07 344.72 L307.22 344.97 L307.39 345.16 L307.58 345.29 L307.8 345.38 L308.02 345.45 L308.25 345.53 L308.47 345.64 L308.66 345.8 L308.82 346.03 L308.95 346.3 L309.06 346.61 L309.16 346.93 L309.27 347.24 L309.4 347.5 L309.55 347.71 L309.74 347.88 L309.96 348.01 L310.19 348.11 L310.42 348.23 L310.64 348.38 L310.83 348.57 L310.97 348.8 L311.08 349.08 L311.17 349.39 L311.24 349.71 L311.32 350.01 L311.42 350.28 L311.56 350.51 L311.74 350.7 L311.95 350.87 L312.19 351.02 L312.42 351.17 L312.64 351.35 L312.81 351.56 L312.94 351.81 L313.03 352.09 L313.08 352.39 L313.12 352.69 L313.17 352.99 L313.25 353.26 L313.37 353.51 L313.54 353.72 L313.74 353.91 L313.98 354.1" stroke-width="1.05" />
<ellipse cx="287.35" cy="370" rx="14.63" ry="26.13" transform="rotate(-28 287.35 370)" stroke-width="1.05" />
<ellipse cx="287.35" cy="370" rx="13.85" ry="24.73" transform="rotate(-28 287.35 370)" stroke-width="0.8400000000000001" />
<ellipse cx="270.4" cy="378.75" rx="12.14" ry="21.68" transform="rotate(-28 270.4 378.75)" stroke-width="1.5" />
<path d="M242.18 378.31 L242.2 377.33 L242.26 376.39 L242.38 375.48 L242.54 374.61 L242.76 373.78 L243.02 373 L243.33 372.27 L243.68 371.59 L244.08 370.97 L244.52 370.4 L245 369.89 L245.52 369.44 L246.07 369.06 L246.67 368.74 L247.29 368.48 L247.95 368.29 L248.64 368.16 L249.35 368.1 L250.08 368.11 L250.84 368.18 L251.62 368.32 L252.4 368.53 L253.21 368.8 L254.02 369.14 L254.84 369.54 L255.66 370 L256.48 370.53 L257.3 371.11 L258.11 371.75 L258.92 372.44 L259.71 373.18 L260.49 373.97 L261.26 374.8 L262 375.68 L262.72 376.6 L263.41 377.55 L264.08 378.54 L264.72 379.56 L265.32 380.6 L265.89 381.66 L266.43 382.74 L266.92 383.83 L267.38 384.94 L267.79 386.05 L268.16 387.16 L268.48 388.26 L268.76 389.37 L268.99 390.46 L269.17 391.54 L269.3 392.59 L269.39 393.63 L269.42 394.64 L269.41 395.62 L269.34 396.57 L269.23 397.48 L269.06 398.35 L268.85 399.18 L268.59 399.96 L268.29 400.69 L267.94 401.37 L267.54 402 L267.11 402.57 L266.63 403.08 L266.11 403.54 L265.55 403.92 L264.96 404.25 L264.34 404.51 L263.68 404.71 L263 404.84 L262.29 404.9 L261.55 404.89 L260.8 404.82" stroke-width="1.4" />
<ellipse cx="240" cy="397.7" rx="11.89" ry="20.5" transform="rotate(-28 240 397.7)" stroke-width="1.0" />
<ellipse cx="235.5" cy="400.25" rx="11.89" ry="20.5" transform="rotate(-28 235.5 400.25)" stroke-width="1.45" />
<path d="M225.71 382.24 L230.21 379.69" stroke-width="0.9" />
<path d="M245.29 418.26 L249.79 415.71" stroke-width="0.9" />
<ellipse cx="236" cy="400.25" rx="10.69" ry="19" transform="rotate(-28 236 400.25)" stroke-width="0.6" />
<ellipse cx="219" cy="411.6" rx="10.44" ry="18" transform="rotate(-28 219 411.6)" stroke-width="1.0" />
<ellipse cx="213.8" cy="414.15" rx="10.44" ry="18" transform="rotate(-28 213.8 414.15)" stroke-width="1.45" />
<path d="M205.53 398.17 L210.73 395.62" stroke-width="0.9" />
<path d="M222.07 430.13 L227.27 427.58" stroke-width="0.9" />
<ellipse cx="214.3" cy="414.15" rx="9.28" ry="16.5" transform="rotate(-28 214.3 414.15)" stroke-width="0.6" />
<text x="326" y="395.5" textLength="23.3" lengthAdjust="spacingAndGlyphs" font-size="7.4" >11-C55</text>
<path d="M325.3 392 L313.5 392 L309.3 385.8" stroke-width="1.0" />
<text x="348.2" y="407.7" textLength="22.8" lengthAdjust="spacingAndGlyphs" font-size="7.4" >11-C51</text>
<path d="M347.4 404.2 L306.8 404.2 L299.3 394.2" stroke-width="1.0" />
<text x="300" y="414.5" textLength="24.3" lengthAdjust="spacingAndGlyphs" font-size="7.4" >11-3431</text>
<path d="M299.2 410.8 L283.3 410.8 L280 400" stroke-width="1.0" />
<text x="281.7" y="424.4" textLength="25" lengthAdjust="spacingAndGlyphs" font-size="7.4" >11-3411</text>
<path d="M281 421.3 L275 421.3 L265 405" stroke-width="1.0" />
<text x="263.7" y="433.9" textLength="24.6" lengthAdjust="spacingAndGlyphs" font-size="7.4" >11-3631</text>
<path d="M263 430.5 L260.8 430.5 L252.5 415" stroke-width="1.0" />
<text x="238.7" y="450.5" textLength="24.3" lengthAdjust="spacingAndGlyphs" font-size="7.4" >11-3611</text>
<path d="M238 446.7 L235 446.7 L229.2 428.3" stroke-width="1.0" />
<text x="280" y="452.2" textLength="25" lengthAdjust="spacingAndGlyphs" font-size="7.4" >23-1801</text>
<path d="M279.3 449.2 L272.5 449.2" stroke-width="1.0" />
<path d="M241.7 420 L248.3 439.2 L272.5 439.2 L272.5 458.3 L226.7 458.3 L220 430.8" stroke-width="1.0" />
<path d="M234.2 340.8 L196.7 361.7 L196.7 425 L203.3 421.7" stroke-width="0.85" stroke-dasharray="3.4 1.9" style="stroke-linecap:butt"/>
<g transform="translate(2 212.8)">
<path d="M318.8 133 C324 141 333 149 344.9 153.6 C350 155.3 354 156 358.2 156.3" stroke-width="0.9"/>
<path d="M313.2 136.3 C318 143 327 151 334.9 155.2 C341 158 347 159.4 353.8 159.7" stroke-width="1.9"/>
</g>
<text x="363.5" y="379.9" textLength="24.5" lengthAdjust="spacingAndGlyphs" font-size="7.4" >11-3171</text>
<path d="M362.8 377 L360.2 377 L359 370" stroke-width="1.0" />
<text x="359" y="391" textLength="27.8" lengthAdjust="spacingAndGlyphs" font-size="7.4" >23-151A</text>
<path d="M358.4 388 L351.8 388 L346.8 372.5" stroke-width="1.0" />
<path d="M199 455.5 L205.4 445.2 L206.7 448.7 L207.5 454.6 L206.2 460.2 Z" stroke-width="0.9" style="fill:#fff"/>
<path d="M199 455.5 L205.4 445.2" stroke-width="1.8"/>
<path d="M206.7 448.7 L217.4 442.7 L218.6 448.2 L207.5 454.6 Z" stroke-width="0.9" style="fill:#2a2a2a"/>
<text x="208" y="452.7" font-size="5.2" font-weight="700" font-style="italic" style="fill:#fff;stroke:none" transform="rotate(-29.5 208 452.7)" textLength="10.2" lengthAdjust="spacingAndGlyphs">FWD</text>
<path d="M432.68 285.84 L432.92 286.04 L433.13 286.24 L433.29 286.48 L433.41 286.73 L433.47 287.01 L433.49 287.3 L433.5 287.59 L433.52 287.88 L433.57 288.15 L433.67 288.4 L433.82 288.64 L434.02 288.86 L434.24 289.08 L434.47 289.31 L434.67 289.54 L434.82 289.79 L434.92 290.05 L434.95 290.32 L434.95 290.59 L434.92 290.86 L434.91 291.13 L434.93 291.38 L435 291.64 L435.13 291.89 L435.32 292.13 L435.53 292.38 L435.74 292.64 L435.93 292.89 L436.07 293.15 L436.14 293.41 L436.16 293.67 L436.12 293.92 L436.06 294.16 L436.02 294.41 L436.01 294.65 L436.05 294.9 L436.16 295.15 L436.32 295.42 L436.52 295.69 L436.72 295.97 L436.89 296.25 L437.01 296.51 L437.06 296.77 L437.05 297.01 L436.99 297.23 L436.9 297.45 L436.82 297.66 L436.78 297.88 L436.8 298.12 L436.88 298.37 L437.02 298.65 L437.2 298.94 L437.38 299.24 L437.53 299.53 L437.63 299.8 L437.66 300.05 L437.62 300.27 L437.53 300.46 L437.41 300.64 L437.31 300.82 L437.24 301.02 L437.23 301.24 L437.28 301.49 L437.4 301.77 L437.55 302.08 L437.71 302.39 L437.84 302.69 L437.92 302.96 L437.92 303.2 L437.86 303.39 L437.74 303.56 L437.6 303.7 L437.46 303.84 L437.37 304 L437.33 304.2 L437.36 304.45 L437.45 304.73 L437.57 305.04 L437.7 305.36 L437.81 305.67 L437.86 305.94 L437.85 306.16 L437.76 306.33 L437.62 306.45 L437.45 306.55 L437.29 306.66 L437.17 306.78 L437.1 306.96 L437.1 307.18 L437.16 307.46 L437.26 307.78 L437.36 308.1 L437.45 308.4 L437.47 308.66 L437.43 308.87 L437.33 309.01 L437.17 309.1 L436.98 309.16 L436.79 309.22 L436.64 309.31 L436.55 309.45 L436.52 309.66 L436.55 309.92 L436.62 310.23 L436.7 310.55 L436.75 310.85 L436.75 311.1 L436.69 311.28 L436.56 311.39 L436.38 311.44 L436.18 311.46 L435.97 311.47 L435.8 311.52 L435.69 311.63 L435.63 311.82 L435.63 312.07 L435.67 312.36 L435.71 312.67 L435.73 312.96 L435.71 313.19 L435.63 313.35 L435.48 313.43 L435.29 313.44 L435.07 313.42 L434.85 313.39 L434.66 313.4 L434.53 313.47 L434.44 313.62 L434.41 313.85 L434.42 314.13 L434.43 314.42 L434.42 314.7 L434.38 314.91 L434.27 315.04 L434.11 315.09 L433.91 315.06 L433.68 314.99 L433.45 314.92 L433.25 314.89 L433.09 314.93 L432.98 315.05 L432.92 315.24 L432.89 315.5 L432.87 315.77 L432.84 316.03 L432.76 316.22 L432.64 316.32 L432.47 316.33 L432.26 316.27 L432.02 316.16 L431.79 316.05 L431.57 315.97 L431.4 315.97 L431.27 316.06 L431.19 316.22 L431.13 316.45 L431.07 316.7 L431.01 316.93 L430.91 317.09 L430.77 317.17 L430.59 317.15 L430.37 317.05 L430.13 316.9 L429.9 316.74 L429.68 316.63 L429.5 316.59 L429.35 316.63 L429.24 316.77 L429.15 316.96 L429.06 317.18 L428.97 317.38 L428.85 317.51 L428.69 317.56 L428.5 317.51 L428.29 317.37 L428.05 317.19 L427.82 317 L427.6 316.84 L427.41 316.76 L427.25 316.77 L427.11 316.87 L426.99 317.03 L426.88 317.21 L426.76 317.38 L426.62 317.48 L426.45 317.49 L426.25 317.41 L426.04 317.24 L425.81 317.03 L425.58 316.8 L425.37 316.61 L425.17 316.5 L425 316.47 L424.84 316.53 L424.7 316.65 L424.56 316.79 L424.41 316.92 L424.25 316.99 L424.07 316.97 L423.88 316.86 L423.67 316.66 L423.45 316.42 L423.24 316.16 L423.03 315.94 L422.84 315.79 L422.66 315.73 L422.48 315.74 L422.32 315.82 L422.15 315.93 L421.98 316.02 L421.81 316.05 L421.62 316 L421.42 315.86 L421.22 315.64 L421.02 315.37 L420.82 315.09 L420.63 314.85 L420.44 314.66 L420.25 314.56 L420.07 314.54 L419.89 314.57 L419.7 314.64 L419.51 314.69 L419.32 314.68 L419.12 314.6 L418.93 314.44 L418.75 314.2 L418.56 313.91 L418.39 313.61 L418.21 313.34 L418.03 313.13 L417.84 312.99 L417.65 312.93 L417.45 312.92 L417.25 312.94 L417.04 312.95 L416.84 312.91 L416.64 312.8 L416.46 312.61 L416.28 312.35 L416.12 312.05 L415.97 311.74 L415.81 311.45 L415.64 311.21 L415.46 311.05 L415.27 310.95 L415.06 310.9 L414.84 310.88 L414.62 310.84 L414.41 310.77 L414.21 310.63 L414.04 310.42 L413.88 310.15 L413.74 309.84 L413.61 309.52 L413.48 309.22 L413.33 308.96 L413.16 308.77 L412.97 308.64 L412.75 308.55 L412.52 308.48 L412.29 308.4 L412.07 308.29 L411.88 308.12 L411.72 307.9 L411.58 307.62 L411.47 307.3 L411.37 306.98 L411.26 306.68 L411.14 306.41 L410.98 306.2 L410.79 306.03 L410.57 305.9 L410.33 305.79 L410.1 305.67 L409.88 305.53 L409.69 305.34 L409.54 305.1 L409.43 304.81 L409.35 304.5 L409.28 304.18 L409.2 303.88 L409.1 303.61 L408.95 303.37 L408.77 303.18 L408.56 303.02 L408.32 302.87 L408.08 302.71 L407.87 302.53 L407.69 302.32 L407.56 302.07 L407.47 301.78 L407.42 301.48 L407.38 301.17 L407.33 300.88 L407.25 300.6 L407.13 300.36 L406.96 300.14 L406.75 299.94 L406.52 299.76 L406.28 299.56 L406.07 299.36 L405.91 299.12 L405.79 298.87 L405.73 298.59 L405.71 298.3 L405.7 298.01 L405.68 297.72 L405.63 297.45 L405.53 297.2 L405.38 296.96 L405.18 296.74 L404.96 296.52 L404.73 296.29 L404.53 296.06 L404.38 295.81 L404.28 295.55 L404.25 295.28 L404.25 295.01 L404.28 294.74 L404.29 294.47 L404.27 294.22 L404.2 293.96 L404.07 293.71 L403.88 293.47 L403.67 293.22 L403.46 292.96 L403.27 292.71 L403.13 292.45 L403.06 292.19 L403.04 291.93 L403.08 291.68 L403.14 291.44 L403.18 291.19 L403.19 290.95 L403.15 290.7 L403.04 290.45 L402.88 290.18 L402.68 289.91 L402.48 289.63 L402.31 289.35 L402.19 289.09 L402.14 288.83 L402.15 288.59 L402.21 288.37 L402.3 288.15 L402.38 287.94 L402.42 287.72 L402.4 287.48 L402.32 287.23 L402.18 286.95 L402 286.66 L401.82 286.36 L401.67 286.07 L401.57 285.8 L401.54 285.55 L401.58 285.33 L401.67 285.14 L401.79 284.96 L401.89 284.78 L401.96 284.58 L401.97 284.36 L401.92 284.11 L401.8 283.83 L401.65 283.52 L401.49 283.21 L401.36 282.91 L401.28 282.64 L401.28 282.4 L401.34 282.21 L401.46 282.04 L401.6 281.9 L401.74 281.76 L401.83 281.6 L401.87 281.4 L401.84 281.15 L401.75 280.87 L401.63 280.56 L401.5 280.24 L401.39 279.93 L401.34 279.66 L401.35 279.44 L401.44 279.27 L401.58 279.15 L401.75 279.05 L401.91 278.94 L402.03 278.82 L402.1 278.64 L402.1 278.42 L402.04 278.14 L401.94 277.82 L401.84 277.5 L401.75 277.2 L401.73 276.94 L401.77 276.73 L401.87 276.59 L402.03 276.5 L402.22 276.44 L402.41 276.38 L402.56 276.29 L402.65 276.15 L402.68 275.94 L402.65 275.68 L402.58 275.37 L402.5 275.05 L402.45 274.75 L402.45 274.5 L402.51 274.32 L402.64 274.21 L402.82 274.16 L403.02 274.14 L403.23 274.13 L403.4 274.08 L403.51 273.97 L403.57 273.78 L403.57 273.53 L403.53 273.24 L403.49 272.93 L403.47 272.64 L403.49 272.41 L403.57 272.25 L403.72 272.17 L403.91 272.16 L404.13 272.18 L404.35 272.21 L404.54 272.2 L404.67 272.13 L404.76 271.98 L404.79 271.75 L404.78 271.47 L404.77 271.18 L404.78 270.9 L404.82 270.69 L404.93 270.56 L405.09 270.51 L405.29 270.54 L405.52 270.61 L405.75 270.68 L405.95 270.71 L406.11 270.67 L406.22 270.55 L406.28 270.36 L406.31 270.1 L406.33 269.83 L406.36 269.57 L406.44 269.38 L406.56 269.28 L406.73 269.27 L406.94 269.33 L407.18 269.44 L407.41 269.55 L407.63 269.63 L407.8 269.63 L407.93 269.54 L408.01 269.38 L408.07 269.15 L408.13 268.9 L408.19 268.67 L408.29 268.51 L408.43 268.43 L408.61 268.45 L408.83 268.55 L409.07 268.7 L409.3 268.86 L409.52 268.97 L409.7 269.01 L409.85 268.97 L409.96 268.83 L410.05 268.64 L410.14 268.42 L410.23 268.22 L410.35 268.09 L410.51 268.04 L410.7 268.09 L410.91 268.23 L411.15 268.41 L411.38 268.6 L411.6 268.76 L411.79 268.84 L411.95 268.83 L412.09 268.73 L412.21 268.57 L412.32 268.39 L412.44 268.22 L412.58 268.12 L412.75 268.11 L412.95 268.19 L413.16 268.36 L413.39 268.57 L413.62 268.8 L413.83 268.99 L414.03 269.1 L414.2 269.13 L414.36 269.07 L414.5 268.95 L414.64 268.81 L414.79 268.68 L414.95 268.61 L415.13 268.63 L415.32 268.74 L415.53 268.94 L415.75 269.18 L415.96 269.44 L416.17 269.66 L416.36 269.81 L416.54 269.87 L416.72 269.86 L416.88 269.78 L417.05 269.67 L417.22 269.58 L417.39 269.55 L417.58 269.6 L417.78 269.74 L417.98 269.96 L418.18 270.23 L418.38 270.51 L418.57 270.75 L418.76 270.94 L418.95 271.04 L419.13 271.06 L419.31 271.03 L419.5 270.96 L419.69 270.91 L419.88 270.92 L420.08 271 L420.27 271.16 L420.45 271.4 L420.64 271.69 L420.81 271.99 L420.99 272.26 L421.17 272.47 L421.36 272.61 L421.55 272.67 L421.75 272.68 L421.95 272.66 L422.16 272.65 L422.36 272.69 L422.56 272.8 L422.74 272.99 L422.92 273.25 L423.08 273.55 L423.23 273.86 L423.39 274.15 L423.56 274.39 L423.74 274.55 L423.93 274.65 L424.14 274.7 L424.36 274.72 L424.58 274.76 L424.79 274.83 L424.99 274.97 L425.16 275.18 L425.32 275.45 L425.46 275.76 L425.59 276.08 L425.72 276.38 L425.87 276.64 L426.04 276.83 L426.23 276.96 L426.45 277.05 L426.68 277.12 L426.91 277.2 L427.13 277.31 L427.32 277.48 L427.48 277.7 L427.62 277.98 L427.73 278.3 L427.83 278.62 L427.94 278.92 L428.06 279.19 L428.22 279.4 L428.41 279.57 L428.63 279.7 L428.87 279.81 L429.1 279.93 L429.32 280.07 L429.51 280.26 L429.66 280.5 L429.77 280.79 L429.85 281.1 L429.92 281.42 L430 281.72 L430.1 281.99 L430.25 282.23 L430.43 282.42 L430.64 282.58 L430.88 282.73 L431.12 282.89 L431.33 283.07 L431.51 283.28 L431.64 283.53 L431.73 283.82 L431.78 284.12 L431.82 284.43 L431.87 284.72 L431.95 285 L432.07 285.24 L432.24 285.46 L432.45 285.66 L432.68 285.84" stroke-width="1.05" />
<ellipse cx="432.1" cy="287.5" rx="15.12" ry="27" transform="rotate(-28 432.1 287.5)" stroke-width="1.05" />
<ellipse cx="432.1" cy="287.5" rx="14.33" ry="25.6" transform="rotate(-28 432.1 287.5)" stroke-width="0.8400000000000001" />
<ellipse cx="450.4" cy="277.15" rx="12.39" ry="22.12" transform="rotate(-28 450.4 277.15)" stroke-width="1.5" />
<ellipse cx="464" cy="270.25" rx="11.24" ry="20.06" transform="rotate(-28 464 270.25)" stroke-width="1.5" />
<text x="444.2" y="237.4" textLength="24.2" lengthAdjust="spacingAndGlyphs" font-size="7.4" >11-3411</text>
<path d="M456.3 238 L456.3 251.7" stroke-width="1.0" />
<text x="405" y="249.9" textLength="24.3" lengthAdjust="spacingAndGlyphs" font-size="7.4" >11-3431</text>
<path d="M430 246.7 L435.8 246.7 L439.2 255.8" stroke-width="1.0" />
<text x="452.4" y="323.7" textLength="22.8" lengthAdjust="spacingAndGlyphs" font-size="7.4" >11-C51</text>
<path d="M451.6 320.8 L447.6 320.8 L444.2 311.7" stroke-width="1.0" />
<text x="444.3" y="337.9" textLength="23.2" lengthAdjust="spacingAndGlyphs" font-size="7.4" >11-C55</text>
<path d="M443.3 334.7 L439.2 334.7 L431.7 315.8" stroke-width="1.0" />
<path d="M475.3 263.3 L497.5 251.7 L497.5 306.7 L478.3 316.7" stroke-width="0.85" stroke-dasharray="3.4 1.9" style="stroke-linecap:butt"/>
<g transform="translate(2.3 213)">
<path d="M387 82.6 L395.1 77.8 C398 77.3 400 78.3 401.9 80 C404.5 82.3 406.5 85 407.9 87.7 C409.2 90.5 409.8 93.5 409.6 96.2 C409.4 98.5 408.8 100.2 407.9 101.3 L399.4 106.2" stroke-width="1.15" style="fill:#fff"/>
<ellipse cx="392.5" cy="95" rx="9.24" ry="13.2" transform="rotate(-22 392.5 95)" stroke-width="1.3" style="fill:#fff"/>
<ellipse cx="392.7" cy="95.1" rx="7.62" ry="11.2" transform="rotate(-22 392.7 95.1)" stroke-width="1.0" />
<path d="M392.5 87.7 L397.6 97" stroke-width="0.8"/>
</g>
<path d="M374.5 319.8 L393.4 308.3" stroke-width="0.85" stroke-dasharray="3.4 1.9" style="stroke-linecap:butt"/>
<ellipse cx="434.25" cy="379.55" rx="11.83" ry="20.4" transform="rotate(-28 434.25 379.55)" stroke-width="1.0" />
<ellipse cx="441.25" cy="376.4" rx="11.83" ry="20.4" transform="rotate(-28 441.25 376.4)" stroke-width="1.45" />
<path d="M450.42 394.61 L443.42 397.76" stroke-width="0.9" />
<path d="M432.08 358.19 L425.08 361.34" stroke-width="0.9" />
<ellipse cx="456.95" cy="367.1" rx="10.61" ry="18.3" transform="rotate(-28 456.95 367.1)" stroke-width="1.0" />
<ellipse cx="464.75" cy="363.15" rx="10.61" ry="18.3" transform="rotate(-28 464.75 363.15)" stroke-width="1.45" />
<path d="M473.23 379.36 L465.43 383.31" stroke-width="0.9" />
<path d="M456.27 346.94 L448.47 350.89" stroke-width="0.9" />
<text x="468.3" y="404" textLength="23.8" lengthAdjust="spacingAndGlyphs" font-size="7.4" >11-3511</text>
<path d="M467.6 400.8 L464.2 400.8 L462.2 385" stroke-width="1.0" />
<text x="423" y="419.5" textLength="24.2" lengthAdjust="spacingAndGlyphs" font-size="7.4" >11-3531</text>
<path d="M435.2 398.5 L435.2 412.5" stroke-width="1.0" />
<text x="471.3" y="428.2" textLength="24.6" lengthAdjust="spacingAndGlyphs" font-size="7.4" >23-1801</text>
<path d="M496.4 425 L502 425 L502 400.8 L493.7 400.8" stroke-width="1.0" />
<path d="M474.2 380 L478.3 389.7 L493.7 389.7 L493.7 410.5 L457.5 410.5 L450 394.5" stroke-width="1.0" />
<path d="M436.5 341.5 L412 355 L412 390.8 L421.7 387.5" stroke-width="0.85" stroke-dasharray="3.4 1.9" style="stroke-linecap:butt"/>
</svg>
</body></html>
